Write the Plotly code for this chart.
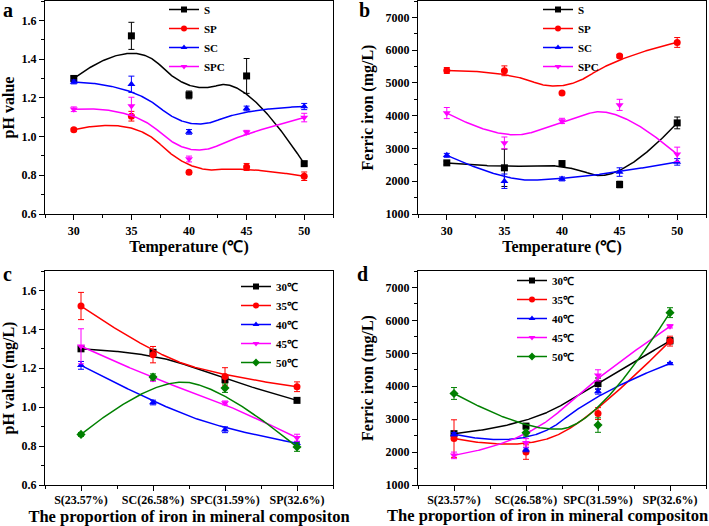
import numpy as np
import plotly.graph_objects as go

# ---------------- data ----------------
temps = [30, 35, 40, 45, 50]
temp_labels = ["30℃", "35℃", "40℃", "45℃", "50℃"]
samples = ["S", "SP", "SC", "SPC"]
comp_order = ["S", "SC", "SPC", "SP"]
comp_labels = ["S(23.57%)", "SC(26.58%)", "SPC(31.59%)", "SP(32.6%)"]

# pH value, per sample, at 30..50 ℃
ph_S = [1.300, 1.520, 1.215, 1.313, 0.860]
ph_SP = [1.035, 1.105, 0.815, 0.843, 0.795]
ph_SC = [1.282, 1.270, 1.024, 1.145, 1.155]
ph_SPC = [1.141, 1.158, 0.884, 1.022, 1.098]
ph_err_S = [0.012, 0.070, 0.020, 0.090, 0.010]
ph_err_SP = [0.008, 0.025, 0.008, 0.018, 0.022]
ph_err_SC = [0.010, 0.042, 0.012, 0.012, 0.016]
ph_err_SPC = [0.012, 0.045, 0.015, 0.010, 0.022]

# Ferric iron (mg/L), per sample, at 30..50 ℃
fe_S = [2560, 2410, 2540, 1900, 3780]
fe_SP = [5380, 5370, 4690, 5820, 6235]
fe_SC = [2790, 2000, 2070, 2280, 2590]
fe_SPC = [4080, 3170, 3840, 4330, 2820]
fe_err_S = [50, 570, 50, 100, 180]
fe_err_SP = [90, 150, 30, 50, 150]
fe_err_SC = [60, 220, 60, 130, 100]
fe_err_SPC = [170, 180, 80, 170, 220]

ph = {"S": ph_S, "SP": ph_SP, "SC": ph_SC, "SPC": ph_SPC}
ph_err = {"S": ph_err_S, "SP": ph_err_SP, "SC": ph_err_SC, "SPC": ph_err_SPC}
fe = {"S": fe_S, "SP": fe_SP, "SC": fe_SC, "SPC": fe_SPC}
fe_err = {"S": fe_err_S, "SP": fe_err_SP, "SC": fe_err_SC, "SPC": fe_err_SPC}

x_title_temp = "Temperature (℃)"
x_title_comp = "The proportion of iron in mineral compositon"

# ---------------- styles ----------------
sample_color = {"S": "#000000", "SP": "#FF0000", "SC": "#0000FF", "SPC": "#FF00FF"}
sample_symbol = {"S": "square", "SP": "circle", "SC": "triangle-up", "SPC": "triangle-down"}
temp_colors = ["#000000", "#FF0000", "#0000FF", "#FF00FF", "#008000"]
temp_symbols = ["square", "circle", "triangle-up", "triangle-down", "diamond"]

FONT = "Liberation Serif"
W, H = 709, 526


def bspline(xs, ys, degree=2, num=300):
    """Clamped B-spline using the data points as control points (Origin 'B-Spline' connect)."""
    P = np.column_stack([np.asarray(xs, float), np.asarray(ys, float)])
    m = len(P)
    k = degree
    knots = np.concatenate([np.zeros(k + 1), np.arange(1, m - k), np.full(k + 1, m - k)]).astype(float)
    t = np.linspace(0, m - k, num)
    nint = len(knots) - 1
    N = np.zeros((num, nint))
    for i in range(nint):
        N[:, i] = (knots[i] <= t) & (t < knots[i + 1])
    N[t >= knots[-1], m - 1] = 1.0
    for p in range(1, k + 1):
        Nn = np.zeros((num, nint - p))
        for i in range(nint - p):
            d1 = knots[i + p] - knots[i]
            d2 = knots[i + p + 1] - knots[i + 1]
            a = (t - knots[i]) / d1 if d1 > 0 else 0.0
            b = (knots[i + p + 1] - t) / d2 if d2 > 0 else 0.0
            Nn[:, i] = a * N[:, i] + b * N[:, i + 1]
        N = Nn
    C = N @ P
    return C[:, 0], C[:, 1]


fig = go.Figure()


def add_series(xs, ys, err, color, symbol, name, xa, ya, legend):
    cx, cy = bspline(xs, ys)
    fig.add_trace(go.Scatter(x=cx, y=cy, mode="lines", line=dict(color=color, width=1.5),
                             xaxis=xa, yaxis=ya, showlegend=False, hoverinfo="skip"))
    fig.add_trace(go.Scatter(x=xs, y=ys, mode="markers",
                             marker=dict(color=color, symbol=symbol, size=7),
                             error_y=dict(type="data", array=err, color=color, thickness=1, width=3),
                             xaxis=xa, yaxis=ya, showlegend=False, name=name))
    fig.add_trace(go.Scatter(x=[None], y=[None], mode="lines+markers",
                             line=dict(color=color, width=1.5),
                             marker=dict(color=color, symbol=symbol, size=6),
                             xaxis=xa, yaxis=ya, name=name, legend=legend, showlegend=True))


# panel a & b: vs temperature
for s in samples:
    add_series(temps, ph[s], ph_err[s], sample_color[s], sample_symbol[s], s, "x", "y", "legend")
    add_series(temps, fe[s], fe_err[s], sample_color[s], sample_symbol[s], s, "x2", "y2", "legend2")

# panel c & d: vs composition
comp_x = list(range(len(comp_order)))
for j, tl in enumerate(temp_labels):
    yc = [ph[s][j] for s in comp_order]
    ec = [ph_err[s][j] for s in comp_order]
    yd = [fe[s][j] for s in comp_order]
    ed = [fe_err[s][j] for s in comp_order]
    add_series(comp_x, yc, ec, temp_colors[j], temp_symbols[j], tl, "x3", "y3", "legend3")
    add_series(comp_x, yd, ed, temp_colors[j], temp_symbols[j], tl, "x4", "y4", "legend4")


def axis_style(**kw):
    d = dict(showline=True, linewidth=1.3, linecolor="black", mirror=True,
             ticks="outside", ticklen=5, tickwidth=1.3, tickcolor="black",
             showgrid=False, zeroline=False, automargin=False,
             tickfont=dict(family=FONT, size=12, color="black", weight="bold"))
    d.update(kw)
    return d


def title(text, size=16, standoff=6):
    return dict(text=text, font=dict(family=FONT, size=size, color="black", weight="bold"), standoff=standoff)


def px(xp):
    return xp / W


def py(yp):
    return 1 - yp / H


dom_xa = [px(45), px(333)]
dom_xb = [px(418), px(706)]
dom_ytop = [py(214), py(1)]
dom_ybot = [py(485), py(271)]

minor_common = dict(ticks="outside", ticklen=3, tickwidth=1.2, tickcolor="black", showgrid=False)
temp_axis = dict(range=[27.5, 52.5], tickvals=temps,
                 minor=dict(dtick=2.5, tick0=27.5, **minor_common))
comp_axis = dict(range=[-0.5, 3.5], tickvals=comp_x, ticktext=comp_labels, ticklabelstandoff=-2,
                 minor=dict(tickvals=[-0.5, 0.5, 1.5, 2.5, 3.5], **minor_common))
ph_axis = dict(range=[0.6, 1.7], tick0=0.6, dtick=0.2, tickformat=".1f",
               minor=dict(dtick=0.1, tick0=0.6, **minor_common))
fe_axis = dict(range=[1000, 7500], tick0=1000, dtick=1000,
               minor=dict(dtick=500, tick0=1000, **minor_common))

fig.update_layout(
    width=W, height=H,
    margin=dict(l=0, r=0, t=0, b=0, autoexpand=False),
    paper_bgcolor="white", plot_bgcolor="white",
    xaxis=axis_style(domain=dom_xa, anchor="y", title=title(x_title_temp, 16, 2), **temp_axis),
    yaxis=axis_style(domain=dom_ytop, anchor="x", title=title("pH value", 16, 8), **ph_axis),
    xaxis2=axis_style(domain=dom_xb, anchor="y2", title=title(x_title_temp, 16, 2), **temp_axis),
    yaxis2=axis_style(domain=dom_ytop, anchor="x2", title=title("Ferric iron (mg/L)", 16, 7), **fe_axis),
    xaxis3=axis_style(domain=dom_xa, anchor="y3", title=title(x_title_comp, 16.5, 2), **comp_axis),
    yaxis3=axis_style(domain=dom_ybot, anchor="x3", title=title("pH value (mg/L)", 16, 8), **ph_axis),
    xaxis4=axis_style(domain=dom_xb, anchor="y4", **comp_axis),
    yaxis4=axis_style(domain=dom_ybot, anchor="x4", title=title("Ferric iron (mg/L)", 16, 7), **fe_axis),
)

# panel d x title sits left of the panel centre (as in the original) so it fits the page
fig.add_annotation(text=x_title_comp, x=px(547), y=py(526), xref="paper", yref="paper",
                   xanchor="center", yanchor="bottom", showarrow=False, borderpad=0,
                   font=dict(family=FONT, size=16.5, color="black", weight="bold"))

leg_common = dict(xanchor="left", yanchor="top", bgcolor="rgba(0,0,0,0)", borderwidth=0,
                  font=dict(family=FONT, size=11, color="black", weight="bold"), itemclick=False)
fig.update_layout(
    legend=dict(x=px(164), y=py(-5), **leg_common),
    legend2=dict(x=px(538), y=py(-5), **leg_common),
    legend3=dict(x=px(236), y=py(272), **leg_common),
    legend4=dict(x=px(512), y=py(266), **leg_common),
)

for lab, xp, yp in [("a", 1, -3), ("b", 357, -3), ("c", 1, 261), ("d", 355, 261)]:
    fig.add_annotation(text=lab, x=px(xp), y=py(yp), xref="paper", yref="paper",
                       xanchor="left", yanchor="top", showarrow=False,
                       font=dict(family=FONT, size=20, color="black", weight="bold"))

# the page body has a default 8px margin; remove it so the figure fills the window exactly
fig.write_html("out.html", config={"displayModeBar": False},
               post_script="document.body.style.margin='0px';")
